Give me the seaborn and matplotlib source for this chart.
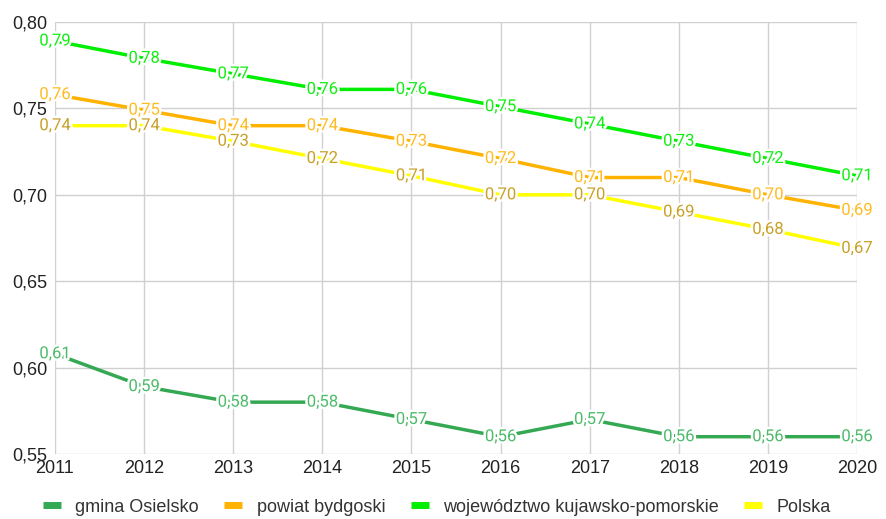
import numpy as np
import pandas as pd
import matplotlib
matplotlib.use("Agg")
import matplotlib.pyplot as plt
import matplotlib.patheffects as pe
import seaborn as sns

years = [2011, 2012, 2013, 2014, 2015, 2016, 2017, 2018, 2019, 2020]
series_names = ["gmina Osielsko", "powiat bydgoski", "województwo kujawsko-pomorskie", "Polska"]
osielsko = [0.608, 0.589, 0.580, 0.580, 0.570, 0.560, 0.570, 0.560, 0.560, 0.560]
powiat = [0.758, 0.749, 0.740, 0.740, 0.731, 0.721, 0.710, 0.710, 0.700, 0.691]
wojewodztwo = [0.789, 0.779, 0.770, 0.761, 0.761, 0.751, 0.741, 0.731, 0.721, 0.711]
polska = [0.740, 0.740, 0.731, 0.721, 0.711, 0.700, 0.700, 0.690, 0.680, 0.669]
y_ticks = [0.55, 0.60, 0.65, 0.70, 0.75, 0.80]

line_colors = ["#34a853", "#ffb300", "#00ee00", "#ffff00"]
label_colors = ["#4cbb6a", "#ffbb22", "#11ee11", "#c8a028"]

values = [osielsko, powiat, wojewodztwo, polska]
df = pd.DataFrame({
    "rok": np.tile(years, len(series_names)),
    "wartość": np.concatenate(values),
    "seria": np.repeat(series_names, len(years)),
})

sns.set_theme(style="white")
plt.rcParams["font.family"] = ["Liberation Sans", "DejaVu Sans"]

fig = plt.figure(figsize=(8.87, 5.19), dpi=100)
ax = fig.add_axes([55 / 887, 1 - 454 / 519, (857 - 55) / 887, (454 - 22) / 519])

sns.lineplot(data=df, x="rok", y="wartość", hue="seria", hue_order=series_names,
             palette=line_colors, linewidth=2.5, ax=ax, legend=True, zorder=3)

for name, vals, lc in zip(series_names, values, label_colors):
    for x, v in zip(years, vals):
        ax.text(x, v, f"{v:.2f}".replace(".", ","), color=lc, fontsize=12,
                family=["Roboto", "DejaVu Sans"],
                ha="center", va="center", zorder=5, clip_on=False,
                path_effects=[pe.withStroke(linewidth=3.5, foreground="white")])

ax.set_xlim(2011, 2020)
ax.set_ylim(0.55, 0.80)
ax.set_xticks(years)
ax.set_xticklabels([str(y) for y in years], fontsize=13, color="#222222")
ax.set_yticks(y_ticks)
ax.set_yticklabels([f"{t:.2f}".replace(".", ",") for t in y_ticks], fontsize=13, color="#222222")
ax.tick_params(axis="y", length=0, pad=5.5)
ax.tick_params(axis="x", length=0, pad=4.5)
ax.grid(True, color="#d0d0d0", linewidth=1)
for s in ax.spines.values():
    s.set_visible(False)
ax.set_xlabel("")
ax.set_ylabel("")

handles, labels = ax.get_legend_handles_labels()
for h in handles:
    h.set_linewidth(5)
    h.set_solid_capstyle("butt")
ax.legend(handles, labels, loc="center", bbox_to_anchor=(437 / 887, 1 - 507 / 519),
          bbox_transform=fig.transFigure,
          ncol=4, frameon=False, fontsize=13, handlelength=1.0,
          columnspacing=1.4, handletextpad=0.8, labelcolor="#333333")

fig.savefig("out.png", dpi=100)
